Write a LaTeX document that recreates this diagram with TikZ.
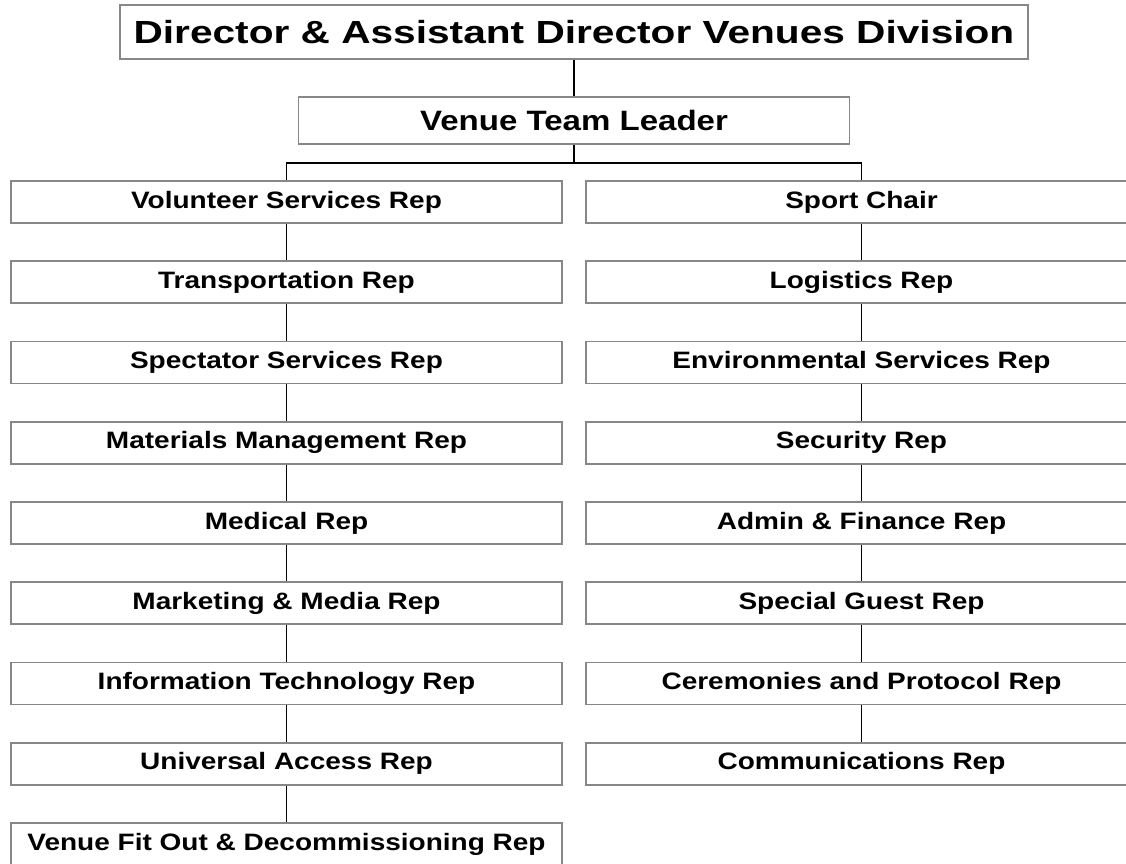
\documentclass[tikz,border=0pt]{standalone}
\usepackage{fontspec}
\setmainfont{Liberation Sans}
\usepackage{graphicx}
\newcommand{\wideT}[1]{\scalebox{1.27}[1]{#1}}
\newcommand{\wideS}[1]{\scalebox{1.18}[1]{#1}}
\begin{document}
\begin{tikzpicture}[x=0.75pt,y=-0.75pt,
  boxline/.style={draw=black!47,line width=1.2pt},
  conn/.style={draw=black,line width=1.1pt},
  topbox/.style={boxline,minimum width={908.5*0.75pt},minimum height={54*0.75pt},inner sep=0pt,
     font=\fontsize{24pt}{28pt}\selectfont\bfseries},
  leadbox/.style={boxline,minimum width={551*0.75pt},minimum height={47*0.75pt},inner sep=0pt,
     font=\fontsize{21pt}{25pt}\selectfont\bfseries},
  repbox/.style={boxline,minimum width={551*0.75pt},minimum height={42*0.75pt},inner sep=0pt,
     font=\fontsize{17.8pt}{21pt}\selectfont\bfseries}
]
\clip (0,0) rectangle (1126,863);
\useasboundingbox (0,0) rectangle (1126,863);

\node[topbox] (top) at (574,32) {\wideT{Director \& Assistant Director Venues Division}};
\node[leadbox] (vtl) at (574,120.5) {\wideS{Venue Team Leader}};

\foreach \t [count=\i from 0] in {Volunteer Services Rep,Transportation Rep,Spectator Services Rep,Materials Management Rep,Medical Rep,Marketing \& Media Rep,Information Technology Rep,Universal Access Rep,Venue Fit Out \& Decommissioning Rep}
  \node[repbox] (L\i) at (286.5,{202+80.25*\i}) {\wideS{\t}};

\foreach \t [count=\i from 0] in {Sport Chair,Logistics Rep,Environmental Services Rep,Security Rep,Admin \& Finance Rep,Special Guest Rep,Ceremonies and Protocol Rep,Communications Rep}
  \node[repbox] (R\i) at (861.5,{202+80.25*\i}) {\wideS{\t}};

\draw[conn] (top.south) -- (vtl.north);
\coordinate (j) at (574,163);
\draw[conn] (vtl.south) -- (j);
\draw[conn] (j) -| (L0.north);
\draw[conn] (j) -| (R0.north);

\foreach \a/\b in {0/1,1/2,2/3,3/4,4/5,5/6,6/7,7/8}
  \draw[conn] (L\a.south) -- (L\b.north);
\foreach \a/\b in {0/1,1/2,2/3,3/4,4/5,5/6,6/7}
  \draw[conn] (R\a.south) -- (R\b.north);
\end{tikzpicture}
\end{document}
